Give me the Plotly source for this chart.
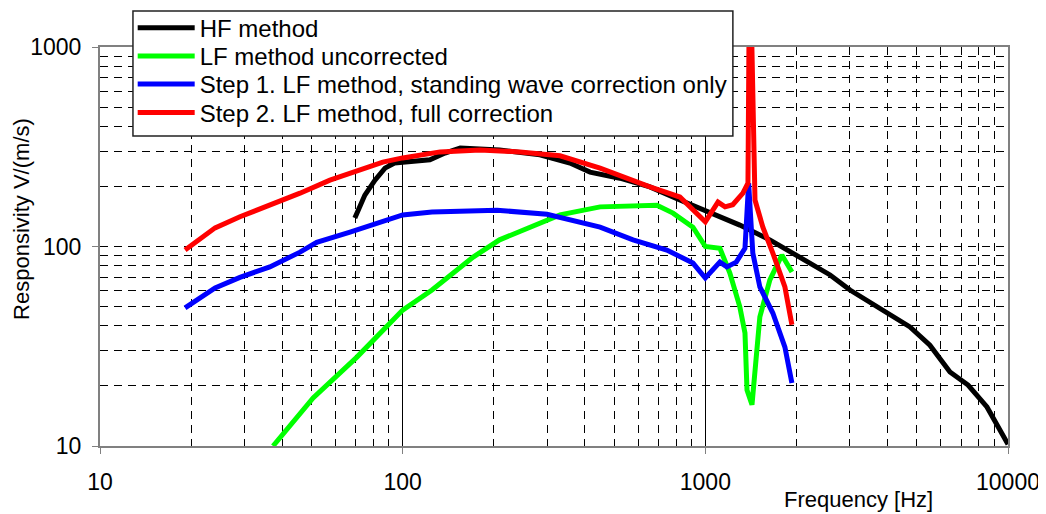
import plotly.graph_objects as go

# HF method
hf_f = [69.5, 75, 81, 87.4, 94, 100, 123, 138, 155, 209, 284, 357, 416, 522, 656, 824,
        1000, 1300, 1633, 2053, 2584, 3006, 3777, 4744, 5520, 6430, 7380, 8520, 10000]
hf_v = [139, 181, 215, 247, 262, 265, 272, 294, 312, 305, 288, 262, 236, 220, 199, 171,
        152, 128, 108, 88, 72, 60.5, 49, 39.5, 32, 23.5, 20.2, 15.7, 10.2]

# LF method uncorrected
lf_f = [37.3, 50.6, 70.6, 90.8, 100, 125, 171, 209, 331, 449, 692, 782, 910, 1000, 1117,
        1205, 1300, 1352, 1373, 1426, 1514, 1634, 1790, 1932]
lf_v = [10, 17.4, 27.9, 41.9, 48, 60.5, 88.5, 108, 144, 158, 161, 147, 125, 100, 98,
        73.6, 49.8, 36.8, 19.1, 16.1, 44.4, 68, 90.6, 74.5]

# Step 1
s1_f = [19.1, 24, 29, 36.4, 45.8, 52, 67, 86, 100, 125, 205, 300, 449, 577, 746, 910,
        1000, 1117, 1178, 1265, 1352, 1390, 1435, 1514, 1671, 1832, 1932]
s1_v = [49.2, 62, 70, 79, 93.7, 105, 118, 133, 144, 149, 152, 145, 125, 108, 96, 82.6,
        69.5, 83.5, 79, 83.5, 98, 208, 92.7, 62.7, 46.4, 31.3, 20.7]

# Step 2
s2_f = [19.1, 24, 29, 36.4, 45.8, 57.5, 67, 86, 100, 133, 180, 244, 331, 449, 656, 824,
        1000, 1101, 1162, 1232, 1331, 1383, 1395, 1420, 1459, 1549, 1671, 1832, 1932]
s2_v = [96, 124, 141, 161, 185, 215, 233, 265, 278, 298, 305, 298, 285, 247, 199, 177,
        133, 167, 158, 162, 185, 208, 1300, 1300, 171, 125, 92.7, 62.7, 40.5]

names = ["HF method", "LF method uncorrected",
         "Step 1. LF method, standing wave correction only",
         "Step 2. LF method, full correction"]
colors = ["#000000", "#00FF00", "#0000FF", "#FF0000"]
legend_ids = ["legend", "legend2", "legend3", "legend4"]

fig = go.Figure()
for f, v, n, c, lg in zip([hf_f, lf_f, s1_f, s2_f], [hf_v, lf_v, s1_v, s2_v],
                          names, colors, legend_ids):
    fig.add_trace(go.Scatter(x=f, y=v, mode="lines", name=n, legend=lg,
                             showlegend=True, line=dict(color=c, width=5)))

x_minor = [d * m for d in (10, 100, 1000) for m in range(2, 10)]
y_minor = [d * m for d in (10, 100) for m in range(2, 10)]

FONT = "Liberation Sans, Arial"

fig.update_xaxes(type="log", range=[1, 4],
                 tickvals=[10, 100, 1000, 10000], ticktext=["10", "100", "1000", "10000"],
                 showgrid=True, gridcolor="#000000", gridwidth=1,
                 showline=True, mirror=True, linecolor="#808080", linewidth=2,
                 ticks="outside", ticklen=6, tickcolor="#808080",
                 ticklabelstandoff=8,
                 minor=dict(tickvals=x_minor, showgrid=True, gridcolor="#000000",
                            griddash="8px,6px", gridwidth=1, ticks=""),
                 tickfont=dict(family=FONT, size=23, color="#000"),
                 zeroline=False)
fig.update_yaxes(type="log", range=[1, 3],
                 tickvals=[10, 100, 1000], ticktext=["10", "100", "1000"],
                 showgrid=True, gridcolor="#000000", gridwidth=1, griddash="8px,6px",
                 showline=True, mirror=True, linecolor="#808080", linewidth=2,
                 ticks="outside", ticklen=6, tickcolor="#808080",
                 ticklabelstandoff=6,
                 minor=dict(tickvals=y_minor, showgrid=True, gridcolor="#000000",
                            griddash="8px,6px", gridwidth=1, ticks=""),
                 tickfont=dict(family=FONT, size=23, color="#000"),
                 zeroline=False)

legend_y = [0.961, 0.9056, 0.8512, 0.7957]
legend_layout = {}
for lg, ly in zip(legend_ids, legend_y):
    legend_layout[lg] = dict(x=0.036, xref="paper", y=ly, yref="container",
                             xanchor="left", yanchor="middle",
                             bgcolor="rgba(0,0,0,0)", borderwidth=0,
                             font=dict(family=FONT, size=24, color="#000"),
                             itemwidth=57, visible=True)

fig.update_layout(
    width=1046, height=514,
    showlegend=True,
    margin=dict(l=92, r=46, t=39, b=76, autoexpand=False),
    paper_bgcolor="white", plot_bgcolor="white",
    font=dict(family=FONT, size=22, color="#000"),
    shapes=[dict(type="rect", xref="paper", yref="paper",
                 x0=0.0363, x1=0.697, y0=0.777, y1=1.090,
                 fillcolor="white", line=dict(color="#222222", width=1.5),
                 layer="above")],
    annotations=[
        dict(text="Frequency [Hz]", xref="paper", yref="paper", x=0.835, y=-0.135,
             xanchor="center", yanchor="middle", showarrow=False,
             font=dict(size=22)),
        dict(text="Responsivity V/(m/s)", xref="paper", yref="paper", x=-0.086, y=0.569,
             xanchor="center", yanchor="middle", textangle=-90, showarrow=False,
             font=dict(size=22)),
    ],
    **legend_layout,
)

fig.write_html("out.html")
